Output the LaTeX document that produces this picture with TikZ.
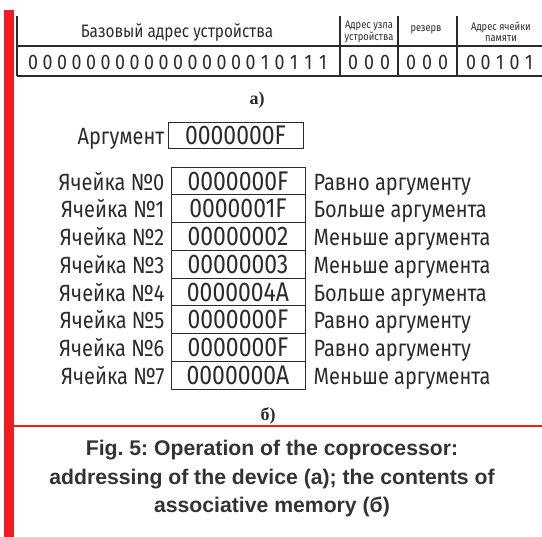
\documentclass[tikz,border=0pt]{standalone}
\usepackage{fontspec}
\setmainfont{Liberation Sans}
\newfontfamily\gost{Fira Sans}[FakeStretch=0.85]
\newfontfamily\serifbf{Liberation Serif}[UprightFont=* Bold]
\usetikzlibrary{positioning}
\definecolor{redbar}{HTML}{EE1D23}
\definecolor{ink}{HTML}{2B2B2B}
\definecolor{captxt}{HTML}{333333}

\begin{document}
\frenchspacing
\begin{tikzpicture}[
  x=1pt,y=-1pt,
  rule/.style={draw=ink,line width=1.2pt},
  bit/.style={font=\gost\fontsize{21}{21}\selectfont,text=ink,inner sep=0pt},
  hd/.style={font=\gost\fontsize{11}{11.5}\selectfont,text=ink,align=center,inner sep=0pt},
  cell/.style={rectangle,draw=ink,line width=0.8pt,minimum width=134pt,minimum height=27.75pt,
               inner sep=0pt,text=ink,font=\gost\fontsize{27}{27}\selectfont},
  lbl/.style={font=\gost\fontsize{23.5}{23.5}\selectfont,text=ink,inner sep=0pt},
  sub/.style={font=\serifbf\fontsize{18}{18}\selectfont,text=ink,inner sep=0pt}
]
\useasboundingbox (0,0) rectangle (542,537);
\fill[redbar] (4,10) rectangle (14,537);
\draw[redbar,line width=2pt] (14,426) -- (542,426);

% address word
\draw[rule] (17,46) -- (542,46) (17,76) -- (542,76);
\draw[rule] (17,16) -- (17,76) (340,16) -- (340,76) (398,16) -- (398,76) (457,16) -- (457,76);
\node[font=\gost\fontsize{18}{18}\selectfont,text=ink] (base) at (177,32) {Базовый адрес устройства};
\node[hd] (unit) at (369,32) {Адрес узла\\устройства};
\node[hd] (resv) at (426,30) {резерв};
\node[hd] (cella) at (501,32) {Адрес ячейки\\памяти};
\foreach \b [count=\k from 0] in {0,0,0,0,0,0,0,0,0,0,0,0,0,0,0,0,1,0,1,1,1}
  \node[bit] (b\k) at (33+14.5*\k,62) {\b};
\foreach \b [count=\k from 0] in {0,0,0}
  \node[bit] (u\k) at (353+16*\k,62) {\b};
\foreach \b [count=\k from 0] in {0,0,0}
  \node[bit] (r\k) at (411+16*\k,62) {\b};
\foreach \b [count=\k from 0] in {0,0,1,0,1}
  \node[bit] (m\k) at (471+14.5*\k,62) {\b};
\node[sub] (sa) at (257,100) {а)};

% associative memory
\node[cell,minimum width=135pt,minimum height=26pt] (arg) at (235.5,135) {0000000F};
\node[lbl,anchor=base east] (argl) at ([xshift=-3pt]arg.base west) {Аргумент};

\node[cell] (c0) at (238,180.9) {0000000F};
\node[cell] (c1) at (238,208.6) {0000001F};
\node[cell] (c2) at (238,236.4) {00000002};
\node[cell] (c3) at (238,264.1) {00000003};
\node[cell] (c4) at (238,291.9) {0000004A};
\node[cell] (c5) at (238,319.6) {0000000F};
\node[cell] (c6) at (238,347.4) {0000000F};
\node[cell] (c7) at (238,375.1) {0000000A};

\node[lbl,anchor=base east] (n0) at ([xshift=-6pt]c0.base west) {Ячейка №0};
\node[lbl,anchor=base east] (n1) at ([xshift=-6pt]c1.base west) {Ячейка №1};
\node[lbl,anchor=base east] (n2) at ([xshift=-6pt]c2.base west) {Ячейка №2};
\node[lbl,anchor=base east] (n3) at ([xshift=-6pt]c3.base west) {Ячейка №3};
\node[lbl,anchor=base east] (n4) at ([xshift=-6pt]c4.base west) {Ячейка №4};
\node[lbl,anchor=base east] (n5) at ([xshift=-6pt]c5.base west) {Ячейка №5};
\node[lbl,anchor=base east] (n6) at ([xshift=-6pt]c6.base west) {Ячейка №6};
\node[lbl,anchor=base east] (n7) at ([xshift=-6pt]c7.base west) {Ячейка №7};

\node[lbl,anchor=base west] (t0) at ([xshift=8pt]c0.base east) {Равно аргументу};
\node[lbl,anchor=base west] (t1) at ([xshift=8pt]c1.base east) {Больше аргумента};
\node[lbl,anchor=base west] (t2) at ([xshift=8pt]c2.base east) {Меньше аргумента};
\node[lbl,anchor=base west] (t3) at ([xshift=8pt]c3.base east) {Меньше аргумента};
\node[lbl,anchor=base west] (t4) at ([xshift=8pt]c4.base east) {Больше аргумента};
\node[lbl,anchor=base west] (t5) at ([xshift=8pt]c5.base east) {Равно аргументу};
\node[lbl,anchor=base west] (t6) at ([xshift=8pt]c6.base east) {Равно аргументу};
\node[lbl,anchor=base west] (t7) at ([xshift=8pt]c7.base east) {Меньше аргумента};
\node[sub] (sb) at (268,416) {б)};

% caption
\node[font=\bfseries\fontsize{21.2}{28.5}\selectfont,text=captxt,align=center] (cap) at (272,479)
  {Fig. 5: Operation of the coprocessor:\\addressing of the device (а); the contents of\\associative memory (б)};
\end{tikzpicture}
\end{document}
